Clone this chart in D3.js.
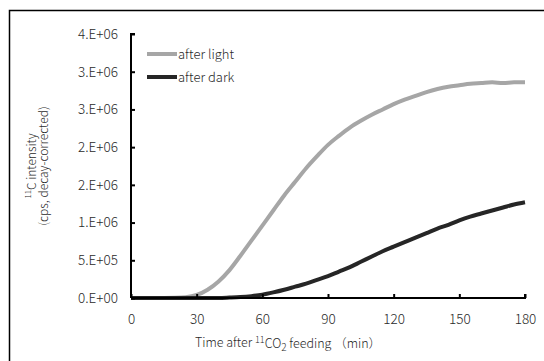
<!DOCTYPE html>
<html>
<head>
<meta charset="utf-8">
<script src="https://cdn.jsdelivr.net/npm/d3@7"></script>
<style>
  body { margin: 0; background: #fff; }
  text { font-family: "Noto Sans CJK JP", "Liberation Sans", sans-serif; font-weight: 300; fill: #2a2a2a; }
</style>
</head>
<body>
<div id="chart"></div>
<script>
// Time (min) and 11C intensity
const times = [0, 5, 10, 15, 20, 25, 30, 35, 40, 45, 50, 55, 60, 65, 70, 75, 80, 85, 90,
    95, 100, 105, 110, 115, 120, 125, 130, 135, 140, 145, 150, 155, 160, 165, 170, 175, 180];
const afterLight = [0, 0, 0, 0, 0.002e6, 0.01e6, 0.04e6, 0.11e6, 0.22e6, 0.37e6, 0.56e6, 0.76e6, 0.96e6,
    1.16e6, 1.36e6, 1.54e6, 1.72e6, 1.88e6, 2.03e6, 2.15e6, 2.26e6, 2.35e6, 2.43e6, 2.50e6, 2.57e6,
    2.63e6, 2.68e6, 2.73e6, 2.77e6, 2.80e6, 2.82e6, 2.84e6, 2.85e6, 2.86e6, 2.85e6, 2.86e6, 2.86e6];
const afterDark = [0, 0, 0, 0, 0, 0, 0, 0, 0, 0.005e6, 0.012e6, 0.025e6, 0.045e6, 0.075e6, 0.11e6,
    0.15e6, 0.19e6, 0.24e6, 0.29e6, 0.35e6, 0.41e6, 0.48e6, 0.55e6, 0.62e6, 0.68e6, 0.74e6, 0.80e6,
    0.86e6, 0.92e6, 0.97e6, 1.03e6, 1.08e6, 1.12e6, 1.16e6, 1.20e6, 1.24e6, 1.27e6];
const seriesNames = ["after light", "after dark"];
const seriesColors = ["#a6a6a6", "#262626"];
const xTicks = [0, 30, 60, 90, 120, 150, 180];
const yTicks = [0, 5e5, 1e6, 1.5e6, 2e6, 2.5e6, 3e6, 3.5e6];
const yTickLabels = ["0.E+00", "5.E+05", "1.E+06", "2.E+06", "2.E+06", "3.E+06", "3.E+06", "4.E+06"];

const width = 544, height = 361;
const margin = { top: 34, right: 19, bottom: 63, left: 131 };

const svg = d3.select("#chart").append("svg")
    .attr("width", width)
    .attr("height", height);

// outer frame (runs off the right and bottom edge)
svg.append("rect")
    .attr("x", 9.5).attr("y", 10.5)
    .attr("width", 560).attr("height", 380)
    .attr("fill", "none").attr("stroke", "#000").attr("stroke-width", 1.5);

const x = d3.scaleLinear().domain([0, 180]).range([margin.left, width - margin.right]);
const y = d3.scaleLinear().domain([0, 3.5e6]).range([height - margin.bottom, margin.top]);

// lines
const series = [afterLight, afterDark];
const line = d3.line()
    .x((d, i) => x(times[i]))
    .y(d => y(d))
    .curve(d3.curveMonotoneX);

series.forEach((vals, k) => {
    svg.append("path")
        .datum(vals)
        .attr("d", line)
        .attr("fill", "none")
        .attr("stroke", seriesColors[k])
        .attr("stroke-width", 4)
        .attr("stroke-linejoin", "round");
});

// Y axis
const yAxis = svg.append("g")
    .attr("transform", `translate(${margin.left},0)`)
    .call(d3.axisRight(y).tickValues(yTicks).tickSize(4).tickFormat((d, i) => yTickLabels[i]));
yAxis.select(".domain").attr("stroke", "#000").attr("stroke-width", 2).attr("d", `M4,${y(3.5e6)}H0V${y(0)}`);
yAxis.selectAll(".tick line").attr("stroke", "#000").attr("stroke-width", 2);
yAxis.selectAll(".tick text")
    .attr("x", -13)
    .attr("text-anchor", "end")
    .style("font-size", "13.5px");

// X axis
const xAxis = svg.append("g")
    .attr("transform", `translate(0,${y(0)})`)
    .call(d3.axisTop(x).tickValues(xTicks).tickSize(4));
xAxis.select(".domain").attr("stroke", "#000").attr("stroke-width", 2).attr("d", `M${x(0)},0H${x(180)}V-4`);
xAxis.selectAll(".tick line").attr("stroke", "#000").attr("stroke-width", 2);
xAxis.selectAll(".tick text")
    .attr("y", 22)
    .attr("dy", "0.32em")
    .style("font-size", "13.5px");

// axis titles
const yTitle = svg.append("g").attr("transform", "translate(0,166) rotate(-90)");
const t1 = yTitle.append("text").attr("x", 0).attr("y", 34).attr("text-anchor", "middle").style("font-size", "12px");
t1.append("tspan").text("11").attr("dy", "-0.4em").style("font-size", "8px");
t1.append("tspan").text("C  intensity").attr("dy", "0.4em");
yTitle.append("text").attr("x", 0).attr("y", 48).attr("text-anchor", "middle")
    .style("font-size", "12px").text("(cps, decay-corrected)");

const xTitle = svg.append("text")
    .attr("x", 288).attr("y", 347)
    .attr("text-anchor", "middle")
    .style("font-size", "12.5px");
xTitle.append("tspan").text("Time after ");
xTitle.append("tspan").text("11").attr("dy", "-0.4em").style("font-size", "9px");
xTitle.append("tspan").text("CO").attr("dy", "0.4em");
xTitle.append("tspan").text("2").attr("dy", "0.25em").style("font-size", "10px");
xTitle.append("tspan").text(" feeding （min）").attr("dy", "-0.25em");

// legend
const legend = svg.append("g").attr("transform", "translate(147,54)");
seriesNames.forEach((name, k) => {
    const g = legend.append("g").attr("transform", `translate(0,${k * 23})`);
    g.append("line").attr("x1", 0).attr("x2", 30)
        .attr("stroke", seriesColors[k]).attr("stroke-width", 4);
    g.append("text").attr("x", 31).attr("dy", "0.35em")
        .style("font-size", "13px").text(name);
});
</script>
</body>
</html>
